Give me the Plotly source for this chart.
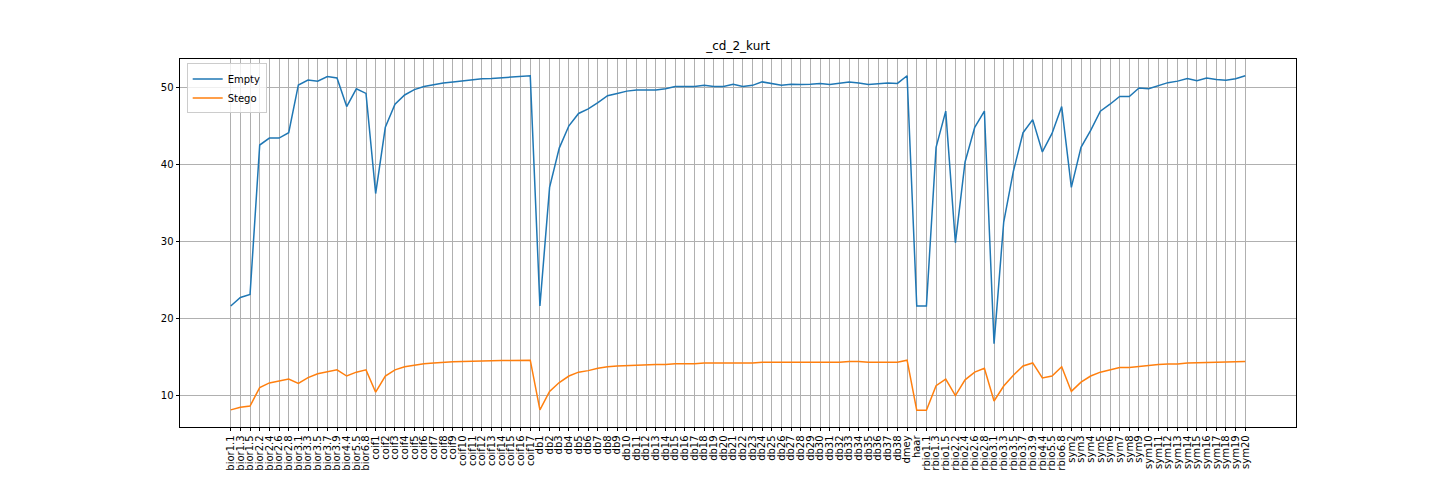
import plotly.graph_objects as go

# wavelet names along the x axis
wavelets = (
    ["bior1.1", "bior1.3", "bior1.5", "bior2.2", "bior2.4", "bior2.6", "bior2.8",
     "bior3.1", "bior3.3", "bior3.5", "bior3.7", "bior3.9", "bior4.4", "bior5.5", "bior6.8"]
    + ["coif%d" % i for i in range(1, 18)]
    + ["db%d" % i for i in range(1, 39)]
    + ["dmey", "haar"]
    + ["rbio1.1", "rbio1.3", "rbio1.5", "rbio2.2", "rbio2.4", "rbio2.6", "rbio2.8",
       "rbio3.1", "rbio3.3", "rbio3.5", "rbio3.7", "rbio3.9", "rbio4.4", "rbio5.5", "rbio6.8"]
    + ["sym%d" % i for i in range(2, 21)]
)

empty_bior = [21.6, 22.7, 23.1, 42.5, 43.4, 43.4, 44.1, 50.3, 50.95, 50.8, 51.4, 51.2, 47.5, 49.8, 49.2]
empty_coif = [36.2, 44.8, 47.8, 49.0, 49.7, 50.1, 50.35, 50.55, 50.7, 50.85, 51.0, 51.1, 51.15,
              51.25, 51.35, 51.4, 51.5]
empty_db = [21.6, 37.0, 42.1, 45.0, 46.6, 47.2, 48.0, 48.9, 49.2, 49.5, 49.65, 49.65, 49.65, 49.8,
            50.1, 50.1, 50.1, 50.25, 50.1, 50.1, 50.4, 50.1, 50.25, 50.7, 50.5, 50.25, 50.4, 50.35,
            50.4, 50.5, 50.35, 50.5, 50.7, 50.55, 50.35, 50.45, 50.55, 50.5]
empty_other = [51.5, 21.6]  # dmey, haar
empty_rbio = [21.6, 42.2, 46.9, 29.8, 40.3, 44.8, 46.9, 16.7, 32.5, 39.1, 44.1, 45.8, 41.6, 44.0, 47.5]
empty_sym = [37.0, 42.2, 44.4, 46.9, 47.8, 48.8, 48.8, 49.9, 49.8, 50.25, 50.6, 50.8, 51.15, 50.85,
             51.2, 51.0, 50.9, 51.1, 51.5]

stego_bior = [8.1, 8.45, 8.6, 11.0, 11.6, 11.9, 12.1, 11.55, 12.3, 12.8, 13.05, 13.3, 12.5, 13.0, 13.3]
stego_coif = [10.4, 12.5, 13.3, 13.7, 13.95, 14.1, 14.2, 14.3, 14.35, 14.4, 14.45, 14.45, 14.5,
              14.5, 14.5, 14.52, 14.55]
stego_db = [8.1, 10.5, 11.65, 12.5, 13.0, 13.2, 13.5, 13.7, 13.8, 13.85, 13.95, 14.0, 14.0, 14.0,
            14.1, 14.1, 14.1, 14.2, 14.2, 14.2, 14.2, 14.2, 14.2, 14.3, 14.3, 14.25, 14.3, 14.3,
            14.25, 14.3, 14.3, 14.3, 14.4, 14.4, 14.3, 14.3, 14.35, 14.3]
stego_other = [14.55, 8.05]  # dmey, haar
stego_rbio = [8.05, 11.25, 12.1, 9.95, 12.0, 13.0, 13.5, 9.25, 11.2, 12.6, 13.8, 14.2, 12.25, 12.5, 13.7]
stego_sym = [10.5, 11.7, 12.5, 13.0, 13.3, 13.6, 13.6, 13.75, 13.9, 14.0, 14.05, 14.05, 14.2, 14.25,
             14.25, 14.3, 14.35, 14.4, 14.4]

empty = empty_bior + empty_coif + empty_db + empty_other + empty_rbio + empty_sym
stego = stego_bior + stego_coif + stego_db + stego_other + stego_rbio + stego_sym
xs = list(range(len(wavelets)))

fnt = "DejaVu Sans"

fig = go.Figure()
fig.add_trace(go.Scatter(x=xs, y=empty, name="Empty", mode="lines",
                         line=dict(color="#1f77b4", width=1.5)))
fig.add_trace(go.Scatter(x=xs, y=stego, name="Stego", mode="lines",
                         line=dict(color="#ff7f0e", width=1.5)))

pad = 0.05 * (len(xs) - 1)
lo, hi = min(stego), max(empty)
ypad = 0.05 * (hi - lo)

# the page body adds 8px of margin, so the margins below are shifted by that
fig.update_layout(
    width=1440, height=480,
    margin=dict(l=172, r=152, t=51, b=61),
    paper_bgcolor="white", plot_bgcolor="white",
    font=dict(family=fnt, size=10, color="black"),
    title=dict(text="_cd_2_kurt", x=0.507, xanchor="center", y=0.921, yanchor="middle",
               font=dict(family=fnt, size=12, color="black")),
    showlegend=True,
    legend=dict(x=0.006, y=0.988, xanchor="left", yanchor="top",
                bgcolor="rgba(255,255,255,0.8)", bordercolor="#cccccc", borderwidth=1,
                font=dict(family=fnt, size=10), tracegroupgap=0, itemwidth=30),
)
fig.update_xaxes(
    range=[-pad, len(xs) - 1 + pad], automargin=False,
    tickmode="array", tickvals=xs, ticktext=wavelets, tickangle=-90,
    tickfont=dict(family=fnt, size=10),
    showgrid=True, gridcolor="#b0b0b0", gridwidth=0.8,
    showline=True, linecolor="black", linewidth=0.8, mirror=True,
    ticks="outside", ticklen=3.5, tickcolor="black", zeroline=False,
)
fig.update_yaxes(
    range=[lo - ypad, hi + ypad], automargin=False,
    tickmode="array", tickvals=[10, 20, 30, 40, 50],
    tickfont=dict(family=fnt, size=10),
    showgrid=True, gridcolor="#b0b0b0", gridwidth=0.8,
    showline=True, linecolor="black", linewidth=0.8, mirror=True,
    ticks="outside", ticklen=3.5, tickcolor="black", zeroline=False,
)

fig.write_html("out.html")
